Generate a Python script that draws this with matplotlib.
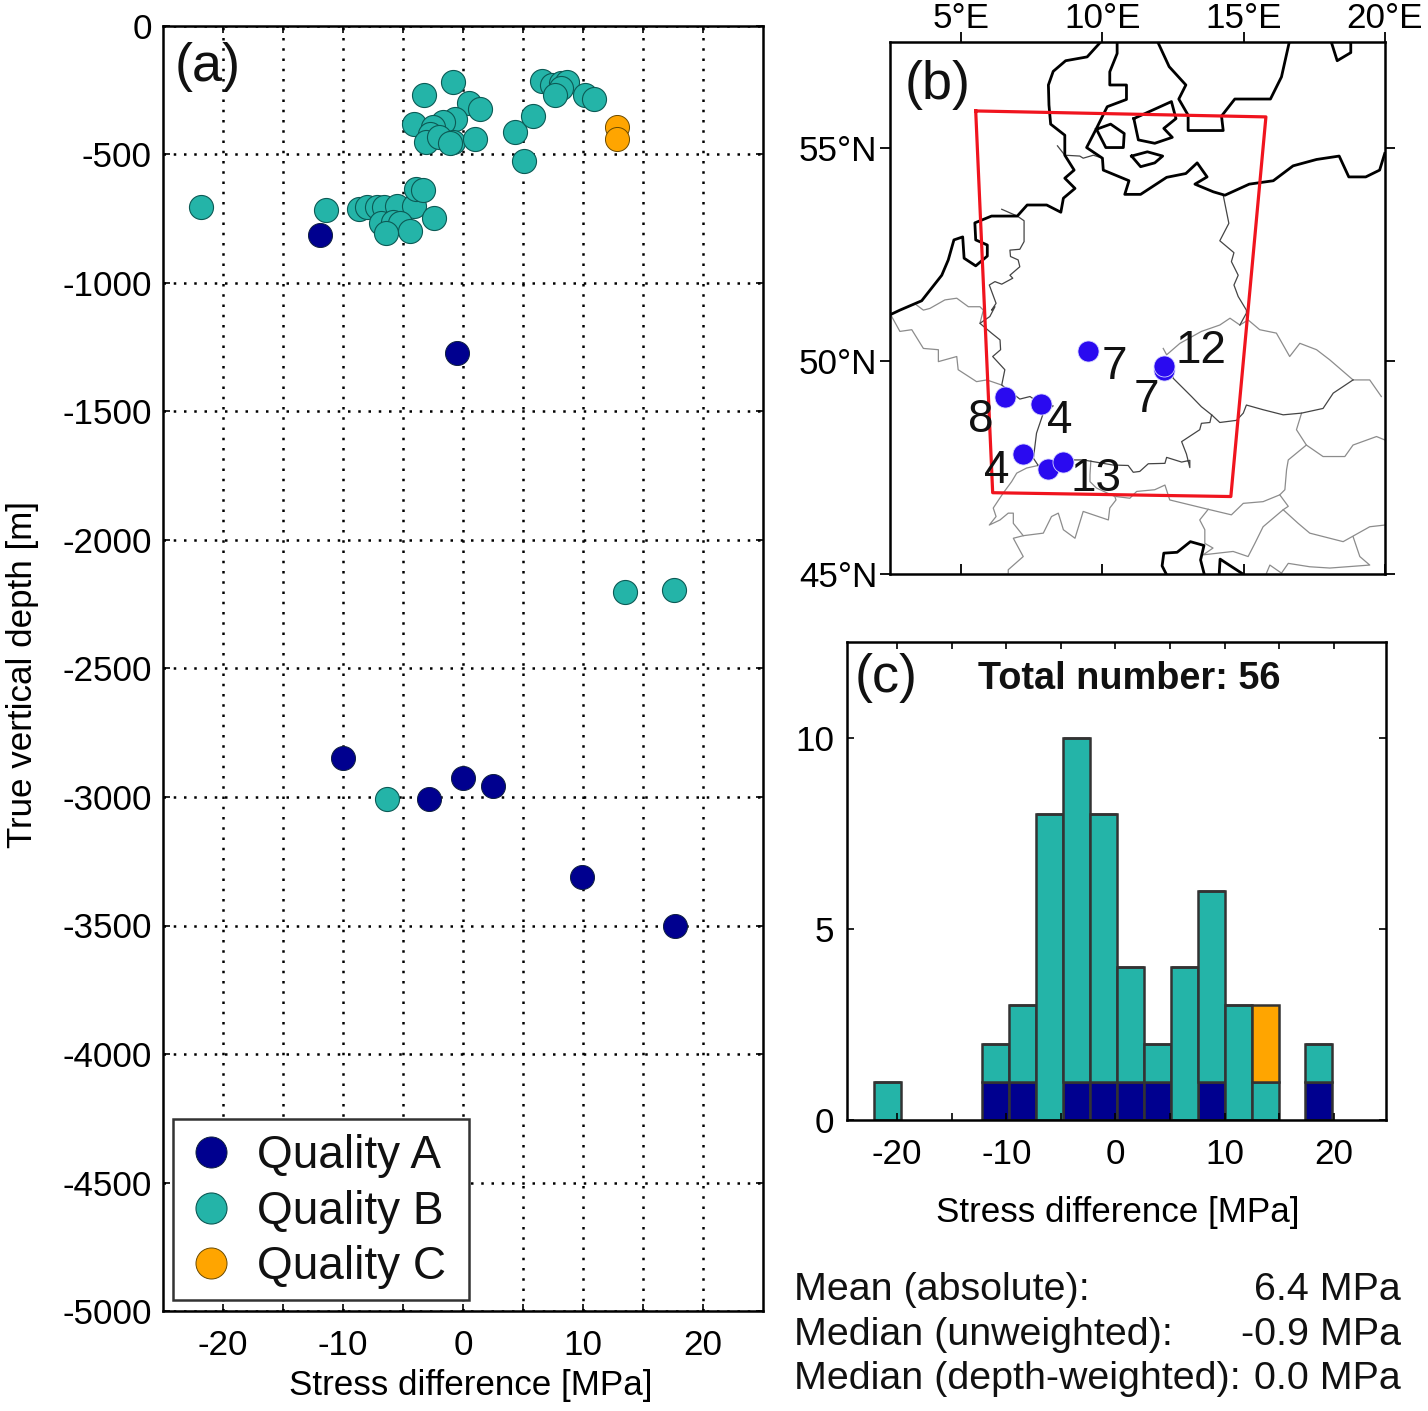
# --- stress difference panels: depth plot, map, histogram --- #

import numpy as np
import matplotlib
matplotlib.use('Agg')
import matplotlib.pyplot as plt
from matplotlib.patches import Rectangle

plt.rcParams['font.family'] = ['Liberation Sans', 'DejaVu Sans']
plt.rcParams['axes.unicode_minus'] = False
plt.rcParams['text.color'] = '#111111'

# ------------------------------------------------------------- #
# panel (a): stress difference [MPa], depth [m]

a_x = [-0.5, -11.95, -10, -2.8, 0, 2.5, 9.9, 17.7]
a_y = [-1272, -812, -2848, -3008, -2926, -2957, -3311, -3502]

b_x = [-21.8, -11.4, -8.7, -8.0, -7.2, -6.6, -5.5, -4.05, -3.9, -3.3, -2.4, -6.8, -5.8, -5.25, -4.4, -6.45,
       -0.8, -3.25, 0.5, 1.4, -4.1, -0.65, -1.65, -2.5, -2.75, -3.1, -2.0, -0.8, -1.1, 1.0,
       4.3, 5.8, 5.1, 6.55, 7.4, 8.2, 8.7, 8.2, 7.7, 10.2, 10.95,
       -6.3, 13.5, 17.6]
b_y = [-706, -716, -712, -706, -703, -706, -699, -700, -634, -638, -746, -768, -761, -768, -796, -807,
       -219, -268, -301, -323, -381, -363, -375, -394, -420, -450, -433, -450, -454, -440,
       -414, -349, -524, -213, -230, -223, -217, -243, -268, -268, -285,
       -3008, -2202, -2195]

c_x = [12.8, 12.8]
c_y = [-392, -440]

# panel (b): coast lines and borders, lon / lat

coast_1 = [(9.92, 57.48), (9.47, 57.15), (8.71, 57.06), (8.27, 56.81), (8.10, 56.49), (8.12, 56.02), (8.18, 55.57),
           (8.68, 55.31), (8.68, 54.84), (9.01, 54.49), (8.68, 54.30), (9.04, 54.06), (8.63, 53.83), (8.54, 53.50),
           (8.04, 53.67), (7.35, 53.67), (7.00, 53.41), (6.09, 53.41), (5.50, 53.25), (5.53, 52.85), (5.94, 52.73),
           (5.94, 52.47), (5.53, 52.24), (5.12, 52.42), (5.07, 52.92), (4.76, 52.85), (4.56, 52.38), (4.33, 52.02),
           (3.62, 51.42), (2.85, 51.2), (2.50, 51.09)]
coast_2 = [(10.53, 57.48), (10.53, 57.23), (10.27, 56.80), (10.27, 56.49), (10.86, 56.49), (10.86, 56.15), (10.18, 55.98),
           (9.80, 55.47), (9.45, 55.02), (10.01, 54.77), (10.04, 54.49), (10.95, 54.24), (10.80, 53.92), (11.36, 53.92),
           (12.28, 54.32), (12.96, 54.41), (13.36, 54.66), (13.71, 54.33), (13.28, 54.16), (13.93, 53.98), (14.34, 53.90),
           (15.20, 54.16), (16.05, 54.24), (16.75, 54.59), (17.58, 54.74), (18.38, 54.82), (18.72, 54.33), (19.32, 54.33),
           (19.81, 54.49), (19.99, 54.88)]
sweden = [(11.98, 57.48), (12.37, 56.92), (12.96, 56.49), (12.71, 56.16), (13.04, 55.78), (13.04, 55.42), (14.28, 55.42),
          (14.22, 55.76), (14.69, 56.16), (15.95, 56.16), (16.34, 56.68), (16.61, 57.48)]
gotland = [(18.11, 57.48), (18.31, 57.06), (18.79, 57.25), (18.79, 57.48)]
fyn = [(9.80, 55.45), (10.30, 55.57), (10.78, 55.35), (10.75, 55.02), (10.13, 55.02), (9.80, 55.45)]
zealand = [(11.12, 55.70), (12.45, 56.10), (12.61, 55.70), (12.18, 55.47), (12.48, 55.26), (11.86, 55.12), (11.28, 55.20), (11.12, 55.70)]
lolland = [(11.04, 54.82), (11.60, 54.92), (12.14, 54.82), (11.86, 54.66), (11.36, 54.57), (11.04, 54.82)]
adria_1 = [(12.25, 45.02), (12.12, 45.19), (12.18, 45.49), (12.65, 45.51), (13.12, 45.76), (13.60, 45.67), (13.48, 45.33), (13.60, 45.02)]
adria_2 = [(14.14, 45.02), (14.17, 45.35), (14.93, 45.02)]
coast_lines = [coast_1, coast_2, sweden, gotland, fyn, zealand, lolland, adria_1, adria_2]

# darker borders (Germany)
de_dk = [(8.42, 55.06), (8.68, 54.84), (9.21, 54.82), (9.33, 54.77), (9.69, 54.84), (10.01, 54.77)]
de_nl = [(6.45, 53.57), (7.00, 53.41), (7.24, 53.30), (7.24, 52.81), (7.09, 52.63), (6.74, 52.61), (6.76, 52.46), (7.03, 52.38),
         (7.09, 52.22), (6.74, 52.02), (6.84, 51.95), (6.45, 51.81), (6.21, 51.87), (6.01, 51.79), (6.25, 51.36), (6.09, 51.2),
         (6.21, 51.28), (6.03, 51.05), (5.68, 50.89), (6.09, 50.66), (6.39, 50.50), (6.41, 50.27), (6.13, 50.11), (6.56, 49.80),
         (6.45, 49.44), (7.09, 49.11), (7.45, 49.17), (7.80, 49.01), (8.27, 48.95), (7.92, 48.78), (7.68, 48.31), (7.57, 47.72),
         (7.74, 47.55)]
de_south = [(7.74, 47.55), (8.09, 47.60), (8.63, 47.68), (9.33, 47.68), (10.39, 47.56), (10.92, 47.55), (11.10, 47.39), (11.33, 47.41),
            (11.63, 47.59), (12.22, 47.60), (12.28, 47.74), (12.81, 47.63), (13.10, 47.67), (13.10, 47.50), (12.98, 47.82), (12.81, 48.11),
            (13.45, 48.39), (13.51, 48.54), (13.81, 48.56), (13.87, 48.74), (14.16, 48.56), (14.75, 48.61), (14.99, 48.78), (15.10, 48.97),
            (15.69, 48.86), (16.40, 48.74), (17.05, 48.78), (17.81, 48.89), (18.17, 49.25), (18.87, 49.56)]
de_cz = [(12.39, 49.95), (12.51, 49.60), (13.16, 49.17), (13.51, 48.93), (13.87, 48.74)]
de_pl = [(14.28, 53.90), (14.48, 53.24), (14.16, 52.83), (14.66, 52.55), (14.57, 52.34), (14.81, 52.02), (14.66, 51.79), (14.81, 51.52),
         (15.10, 51.20), (15.10, 51.13), (14.87, 50.85)]
dark_borders = [de_dk, de_nl, de_south, de_cz, de_pl]

# lighter borders
ch_south = [(7.74, 47.55), (7.33, 47.49), (6.98, 47.37), (6.80, 47.17), (6.50, 46.90), (6.15, 46.55), (6.25, 46.35), (6.01, 46.15),
            (6.39, 46.27), (6.68, 46.43), (6.86, 46.43), (6.86, 46.19), (7.21, 45.90), (7.92, 45.96), (8.21, 46.35), (8.45, 46.43),
            (8.63, 46.04), (9.04, 45.84), (9.33, 46.47), (10.22, 46.27), (10.27, 46.55), (10.49, 46.74), (10.45, 46.82), (9.80, 47.02),
            (9.57, 47.17), (9.57, 47.33), (9.60, 47.66)]
cz_north = [(18.87, 49.56), (18.05, 50.03), (17.58, 50.27), (16.99, 50.42), (16.63, 50.11), (16.16, 50.66), (15.57, 50.74), (15.16, 50.97),
            (14.87, 50.85), (14.52, 51.01), (14.16, 50.85), (13.51, 50.70), (12.75, 50.42), (12.28, 50.15), (12.16, 50.30)]
sk_north = [(18.87, 49.56), (19.46, 49.56), (19.87, 49.17)]
sk_south = [(17.05, 48.78), (16.87, 48.39), (17.22, 48.03), (17.81, 47.76), (18.58, 47.76), (18.87, 48.03), (19.70, 48.23), (19.99, 48.15)]
at_south = [(17.22, 48.03), (16.58, 47.68), (16.52, 47.45), (16.46, 46.98), (16.28, 46.86), (15.69, 46.70), (14.99, 46.66), (14.57, 46.39),
            (13.75, 46.52), (12.39, 46.74), (12.22, 47.09), (11.86, 46.98), (11.22, 46.94), (10.98, 46.78), (10.49, 46.82)]
si_south = [(13.75, 46.52), (13.45, 46.27), (13.63, 46.04), (13.63, 45.72), (13.92, 45.61), (13.57, 45.45), (14.63, 45.53), (15.16, 45.41),
            (15.40, 45.72), (15.69, 46.11), (16.40, 46.51), (16.93, 46.19), (17.34, 45.96), (18.52, 45.76), (19.46, 46.11), (19.99, 46.15)]
hu_si = [(16.28, 46.86), (16.58, 46.59), (16.40, 46.51)]
hr_rs = [(18.87, 45.88), (19.11, 45.41), (19.46, 45.21), (18.05, 45.14), (17.34, 45.17), (16.58, 45.25), (16.34, 45.02)]
hr_ba = [(15.81, 45.02), (15.93, 45.21), (16.34, 45.02)]
it_fr = [(7.21, 45.90), (6.86, 45.84), (7.21, 45.41), (6.68, 45.10), (6.68, 45.02)]
be_fr = [(2.56, 51.05), (2.85, 50.70), (3.27, 50.74), (3.68, 50.30), (4.21, 50.27), (4.21, 49.99), (4.86, 50.11), (4.91, 49.80),
         (5.56, 49.52), (5.92, 49.56), (6.45, 49.44)]
be_nl = [(3.44, 51.32), (3.68, 51.20), (3.91, 51.24), (4.44, 51.44), (4.86, 51.48), (5.27, 51.28), (5.68, 51.28), (5.80, 51.20), (5.68, 50.89)]
light_borders = [ch_south, cz_north, sk_north, sk_south, at_south, si_south, hu_si, hr_rs, hr_ba, it_fr, be_fr, be_nl]

model_box = [(5.53, 55.88), (15.79, 55.74), (14.55, 46.82), (6.13, 46.91), (5.53, 55.88)]

site_lon = [9.51, 12.19, 12.19, 6.56, 7.84, 7.19, 8.10, 8.60]
site_lat = [50.24, 49.80, 49.89, 49.17, 49.00, 47.82, 47.47, 47.64]

count_lab = ['7', '12', '7', '8', '4', '4', '13']
count_lon = [10.43, 13.51, 11.57, 5.70, 8.51, 6.29, 9.80]
count_lat = [49.87, 50.23, 49.08, 48.63, 48.59, 47.42, 47.24]

# panel (c): histogram counts per bin

bin_left = [-22.1, -12.25, -9.75, -7.28, -4.8, -2.33, 0.12, 2.62, 5.07, 7.54, 10.05, 12.49, 17.38]
hist_a = [0, 1, 1, 0, 1, 1, 1, 1, 0, 1, 0, 0, 1]
hist_b = [1, 1, 2, 8, 9, 7, 3, 1, 4, 5, 3, 1, 1]
hist_c = [0, 0, 0, 0, 0, 0, 0, 0, 0, 0, 0, 2, 0]
bin_width = 2.48

# ------------------------------------------------------------- #

W, H = 1428, 1411
col_a = '#00008F'
col_b = '#24B4A8'
col_c = '#FFA500'
fs = 25.2


def px_axes(left, top, right, bottom):
    return fig.add_axes([left / W, 1 - bottom / H, (right - left) / W, (bottom - top) / H])


fig = plt.figure(figsize=(W / 100, H / 100), dpi=100)

# ----- (a) ----- #
ax = px_axes(163, 26, 763, 1311)
ax.set_xlim(-25, 25)
ax.set_ylim(-5000, 0)
ax.set_axisbelow(True)
dots = dict(color='k', lw=1.8, ls=(0, (1, 3.1)))
ax.set_xticks(np.arange(-20, 21, 5))
ax.set_xticklabels(['-20', '', '-10', '', '0', '', '10', '', '20'])
ax.set_yticks(np.arange(-5000, 1, 500))
ax.set_yticklabels(['%d' % v for v in np.arange(-5000, 1, 500)])
ax.grid(True, **dots)
ax.tick_params(direction='in', length=5, width=1.2, labelsize=fs, top=True, right=True, pad=8)
ax.tick_params(axis='x', pad=13)
sa = ax.scatter(a_x, a_y, s=300, c=col_a, edgecolors='#102040', linewidths=0.7, zorder=3, label='Quality A')
sb = ax.scatter(b_x, b_y, s=300, c=col_b, edgecolors='#0c5a55', linewidths=0.8, zorder=3, label='Quality B')
sc = ax.scatter(c_x, c_y, s=300, c=col_c, edgecolors='#6a4a00', linewidths=0.7, zorder=3, label='Quality C')
# legend frame is drawn on its own, the box is wider than the text needs
ax.add_patch(Rectangle((10 / 600, 11 / 1285), 296 / 600, 181 / 1285, transform=ax.transAxes, facecolor='w',
                       edgecolor='#333333', linewidth=1.8, zorder=4.9))
leg = ax.legend(handles=[sa, sb, sc], loc='lower left', bbox_to_anchor=(10 / 600, 11 / 1285), borderaxespad=0,
                fontsize=33, markerscale=1.29, frameon=False, labelspacing=0.25,
                handletextpad=0.476, borderpad=0.32, handlelength=1.03)
leg.set_zorder(5)
for t in leg.get_texts():
    t.set_y(-4)     # text sits a bit high next to the markers otherwise
ax.set_xlabel('Stress difference [MPa]', fontsize=fs)
ax.xaxis.set_label_coords(0.513, -0.0576, transform=ax.transAxes)
ax.xaxis.label.set_verticalalignment('center')
ax.set_ylabel('True vertical depth [m]', fontsize=fs)
ax.yaxis.set_label_coords(-0.234, 0.495, transform=ax.transAxes)
ax.yaxis.label.set_verticalalignment('center')
ax.text(-21.3, -160, '(a)', fontsize=39, ha='center', va='center', zorder=4)
for s in ax.spines.values():
    s.set_linewidth(1.8)

# ----- (b) ----- #
bx = px_axes(890, 42, 1385, 574)
bx.set_xlim(2.5, 20)
bx.set_ylim(45, 57.5)
for line in light_borders:
    arr = np.array(line)
    bx.plot(arr[:, 0], arr[:, 1], color='#8c8c8c', lw=0.9, zorder=1)
for line in dark_borders:
    arr = np.array(line)
    bx.plot(arr[:, 0], arr[:, 1], color='#444444', lw=0.9, zorder=1)
for line in coast_lines:
    arr = np.array(line)
    bx.plot(arr[:, 0], arr[:, 1], color='k', lw=2.0, zorder=2)
arr = np.array(model_box)
bx.plot(arr[:, 0], arr[:, 1], color='#F0141E', lw=2.3, zorder=3)
bx.scatter(site_lon, site_lat, s=230, c='#2A0AF0', edgecolors='#d8d8ff', linewidths=0.6, zorder=4)
for lab, lon, lat in zip(count_lab, count_lon, count_lat):
    bx.text(lon, lat, lab, fontsize=33, ha='center', va='center', zorder=5)
bx.text(4.2, 56.5, '(b)', fontsize=39, ha='center', va='center', zorder=5)
bx.set_xticks([5, 10, 15, 20])
bx.set_xticklabels(['5°E', '10°E', '15°E', '20°E'])
bx.set_yticks([45, 50, 55])
bx.set_yticklabels(['45°N', '50°N', '55°N'])
bx.tick_params(axis='x', direction='in', length=7, width=1.3, top=True, labeltop=True, labelbottom=False, labelsize=fs, pad=5)
bx.tick_params(axis='y', direction='out', length=7, width=1.3, right=True, labelsize=fs, pad=2)
for t in bx.xaxis.get_majorticklines()[1::2]:
    t.set_marker(2)     # top ticks point outwards
for s in bx.spines.values():
    s.set_linewidth(1.8)

# ----- (c) ----- #
cx = px_axes(847, 642, 1386, 1120)
cx.set_xlim(-24.6, 24.8)
cx.set_ylim(0, 12.5)
hist_a = np.array(hist_a)
hist_b = np.array(hist_b)
hist_c = np.array(hist_c)
bar_opts = dict(width=bin_width, align='edge', edgecolor='#333333', linewidth=1.8)
cx.bar(bin_left, hist_a, color=col_a, **bar_opts)
cx.bar(bin_left, hist_b, bottom=hist_a, color=col_b, **bar_opts)
cx.bar(bin_left, hist_c, bottom=hist_a + hist_b, color=col_c, **bar_opts)
cx.set_xticks(np.arange(-20, 21, 5))
cx.set_xticklabels(['-20', '', '-10', '', '0', '', '10', '', '20'])
cx.set_yticks([0, 5, 10])
cx.tick_params(direction='in', length=5, width=1.2, labelsize=fs, top=True, right=True, pad=9)
cx.tick_params(axis='x', pad=13)
cx.set_xlabel('Stress difference [MPa]', fontsize=fs)
cx.xaxis.set_label_coords(0.502, -0.1925, transform=cx.transAxes)
cx.xaxis.label.set_verticalalignment('center')
cx.text(-21, 11.55, '(c)', fontsize=39, ha='center', va='center')
cx.text(1.3, 11.53, 'Total number: 56', fontsize=27.3, fontweight='bold', ha='center', va='center')
for s in cx.spines.values():
    s.set_linewidth(1.8)

# ----- statistics under (c) ----- #
stat_names = ['Mean (absolute):', 'Median (unweighted):', 'Median (depth-weighted):']
stat_values = ['6.4 MPa', '-0.9 MPa', '0.0 MPa']
stat_y = [1290, 1335, 1379]
for name, val, y in zip(stat_names, stat_values, stat_y):
    fig.text(794 / W, 1 - y / H, name, fontsize=28.4, ha='left', va='center')
    fig.text(1401 / W, 1 - y / H, val, fontsize=28.4, ha='right', va='center')

fig.savefig('out.png', dpi=100)
